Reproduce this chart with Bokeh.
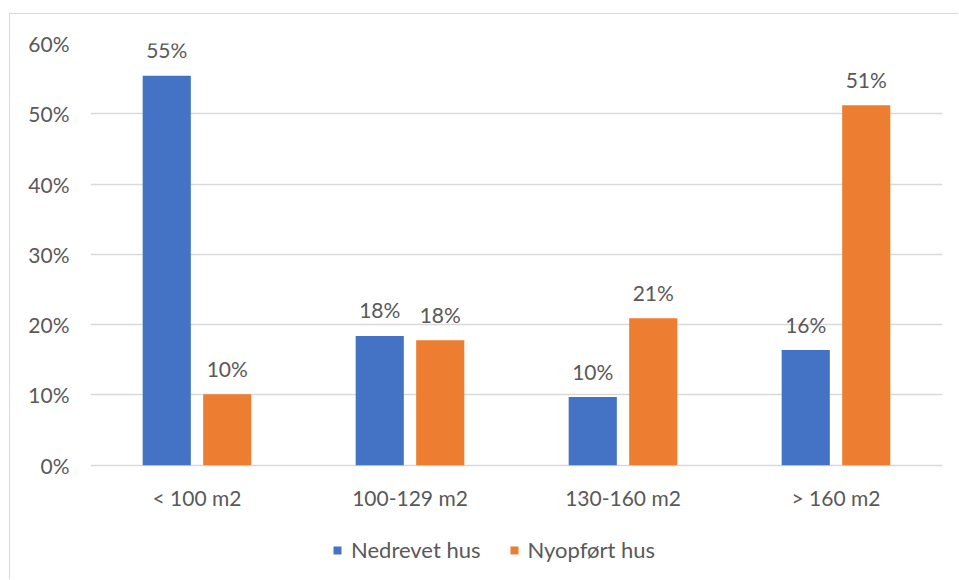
from bokeh.plotting import figure
from bokeh.models import (ColumnDataSource, FactorRange, Range1d, NumeralTickFormatter,
                          Legend, LegendItem, FixedTicker)
from bokeh.transform import dodge
from bokeh.core.properties import value
from bokeh.embed import file_html
from bokeh.resources import INLINE

# House size categories and share of houses in each
categories = ["< 100 m2", "100-129 m2", "130-160 m2", "> 160 m2"]
nedrevet = [0.554, 0.184, 0.097, 0.164]   # demolished houses
nyopfort = [0.101, 0.178, 0.209, 0.512]   # newly built houses
series_names = ["Nedrevet hus", "Nyopført hus"]
y_ticks = [0.0, 0.1, 0.2, 0.3, 0.4, 0.5, 0.6]

BLUE = "#4472C4"
ORANGE = "#ED7D31"
TEXT = "#595959"
GRID = "#D9D9D9"
FONT = "Lato"
FS = "21px"

# plot geometry in pixels: value axis runs from 0 at y=465 to 60% at y=44,
# the frame continues below the zero line to hold category names and legend
Y_TOP, Y_ZERO, Y_BOTTOM = 44, 465, 576
px_per_unit = (Y_ZERO - Y_TOP) / max(y_ticks)
y_start = -(Y_BOTTOM - Y_ZERO) / px_per_unit

src = ColumnDataSource(dict(
    cat=categories,
    ned=nedrevet,
    nyo=nyopfort,
    ned_lbl=[f"{round(v * 100)}%" for v in nedrevet],
    nyo_lbl=[f"{round(v * 100)}%" for v in nyopfort],
    zero=[0.0] * len(categories),
))

# chart box sits 10px in from the left and 14px down from the top
p = figure(width=949, height=566, x_range=FactorRange(*categories),
           y_range=Range1d(y_start, max(y_ticks)), output_backend="svg",
           toolbar_location=None,
           min_border_left=80, min_border_right=17, min_border_top=29,
           min_border_bottom=566 - (Y_BOTTOM - 14))
p.margin = (13, 0, 0, 9)
p.styles = {"border-top": f"1.5px solid {GRID}", "border-left": f"1.5px solid {GRID}"}
p.outline_line_color = None
p.background_fill_color = "white"
p.border_fill_color = "white"

off = 0.142
bw = 0.226
r1 = p.vbar(x=dodge("cat", -off, range=p.x_range), top="ned", width=bw,
            source=src, fill_color=BLUE, line_color=None)
r2 = p.vbar(x=dodge("cat", off, range=p.x_range), top="nyo", width=bw,
            source=src, fill_color=ORANGE, line_color=None)

# value labels above the bars
for col, lbl, d in (("ned", "ned_lbl", -off), ("nyo", "nyo_lbl", off)):
    p.text(x=dodge("cat", d, range=p.x_range), y=col, text=lbl, source=src,
           text_align="center", text_baseline="alphabetic", y_offset=-26,
           text_font=value(FONT), text_font_size=FS, text_color=TEXT)

# category names under the zero line
p.text(x="cat", y="zero", text="cat", source=src, text_align="center",
       text_baseline="middle", y_offset=32, text_font=value(FONT),
       text_font_size=FS, text_color=TEXT)

# value axis
p.yaxis.ticker = FixedTicker(ticks=y_ticks)
p.yaxis.formatter = NumeralTickFormatter(format="0%")
ax = p.yaxis[0]
ax.axis_line_color = None
ax.major_tick_line_color = None
ax.minor_tick_line_color = None
ax.major_tick_in = 0
ax.major_tick_out = 0
ax.major_label_text_font = FONT
ax.major_label_text_font_size = FS
ax.major_label_text_color = TEXT
ax.major_label_standoff = 21
p.xaxis.visible = False

p.xgrid.grid_line_color = None
p.ygrid.grid_line_color = GRID
p.ygrid.grid_line_width = 1.5

legend = Legend(items=[LegendItem(label=series_names[0], renderers=[r1]),
                       LegendItem(label=series_names[1], renderers=[r2])],
                orientation="horizontal", location=(242, 13),
                glyph_width=10, glyph_height=10, label_standoff=9, spacing=28,
                padding=0, margin=0, border_line_color=None,
                background_fill_alpha=0,
                label_text_font=FONT, label_text_font_size="22px",
                label_text_color=TEXT)
p.add_layout(legend, "center")

open("out.html", "w").write(file_html(p, INLINE))
